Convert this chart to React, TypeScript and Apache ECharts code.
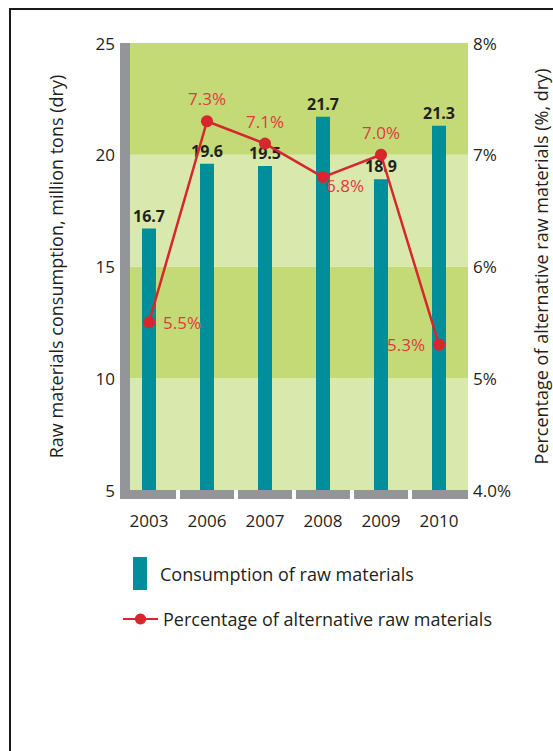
import React, { useEffect, useRef } from "react";
import * as echarts from "echarts";

const categories = ["2003", "2006", "2007", "2008", "2009", "2010"];
const consumption = [16.7, 19.6, 19.5, 21.7, 18.9, 21.3];
const altPercent = [5.5, 7.3, 7.1, 6.8, 7.0, 5.3];
const altLabelPos = ["right", "top", "top", "bottom", "top", "left"];
const leftTicks = { min: 5, max: 25, interval: 5 };
const rightTicks = { min: 4, max: 8, interval: 1 };

const FONT = "'Open Sans', 'Noto Sans', sans-serif";
const TEXT = "#231f20";
const GRAY = "#939598";
const TEAL = "#008e9b";
const RED = "#d7262e";
const RED_TEXT = "#e0393e";

export default function App() {
  const ref = useRef<HTMLDivElement>(null);
  useEffect(() => {
    const chart = echarts.init(ref.current!, null, { renderer: "svg" });
    const lineData = altPercent.map((v, i) => {
      const pos = altLabelPos[i];
      const label: any = { position: pos };
      if (pos === "bottom") {
        label.position = [9, 6];
      }
      return { value: v, label };
    });
    chart.setOption({
      animation: false,
      textStyle: { fontFamily: FONT },
      grid: { left: 120, right: 85, top: 43, bottom: 261, outerBoundsMode: "none", containLabel: false },
      graphic: [
        {
          type: "rect",
          shape: { x: 10, y: 9, width: 600, height: 800 },
          style: { fill: "none", stroke: "#1a1a1a", lineWidth: 2 },
          z: 100,
        },
      ],
      legend: [
        {
          data: ["Consumption of raw materials"],
          left: 133,
          top: 557,
          padding: 0,
          itemWidth: 14,
          itemHeight: 33,
          icon: "rect",
          textStyle: { fontFamily: FONT, fontSize: 18, color: TEXT, padding: [0, 0, 0, 8] },
        },
        {
          data: ["Percentage of alternative raw materials"],
          left: 122,
          top: 610,
          padding: 0,
          itemWidth: 35,
          itemHeight: 14,
          textStyle: { fontFamily: FONT, fontSize: 18, color: TEXT, padding: [0, 0, 0, 0] },
        },
      ],
      xAxis: {
        type: "category",
        data: categories,
        boundaryGap: true,
        axisLine: { show: false },
        axisTick: { show: false },
        axisLabel: { margin: 22, fontSize: 17, color: TEXT, fontFamily: FONT },
      },
      yAxis: [
        {
          type: "value",
          min: leftTicks.min,
          max: leftTicks.max,
          interval: leftTicks.interval,
          offset: -5,
          name: "Raw materials consumption, million tons (dry)",
          nameLocation: "middle",
          nameGap: 60,
          nameTextStyle: { fontSize: 18, color: TEXT, fontFamily: FONT },
          axisLine: { show: true, lineStyle: { color: GRAY, width: 10, cap: "butt" } },
          axisTick: { show: false },
          axisLabel: { margin: 10, fontSize: 17, color: TEXT, fontFamily: FONT },
          splitLine: { show: false },
          splitArea: {
            show: true,
            areaStyle: { color: ["#d9e8ac", "#c3da76"] },
          },
        },
        {
          type: "value",
          min: rightTicks.min,
          max: rightTicks.max,
          interval: rightTicks.interval,
          position: "right",
          name: "Percentage of alternative raw materials (%, dry)",
          nameLocation: "middle",
          nameGap: 64,
          nameRotate: 90,
          nameTextStyle: { fontSize: 18, color: TEXT, fontFamily: FONT },
          axisLine: { show: false },
          axisTick: { show: false },
          axisLabel: {
            margin: 5,
            fontSize: 17,
            color: TEXT,
            fontFamily: FONT,
            formatter: (v: number) => (v === rightTicks.min ? v.toFixed(1) + "%" : v + "%"),
          },
          splitLine: { show: false },
        },
      ],
      series: [
        {
          name: "Consumption of raw materials",
          type: "bar",
          data: consumption,
          barWidth: 14,
          itemStyle: { color: TEAL },
          z: 2,
          label: {
            show: true,
            position: "top",
            distance: 5,
            fontSize: 16,
            fontWeight: "bold",
            color: TEXT,
            fontFamily: FONT,
            formatter: (p: any) => p.value.toFixed(1),
          },
        },
        {
          name: "Percentage of alternative raw materials",
          type: "line",
          yAxisIndex: 1,
          data: lineData,
          symbol: "circle",
          symbolSize: 12,
          lineStyle: { color: RED, width: 2.5 },
          itemStyle: { color: RED },
          z: 3,
          label: {
            show: true,
            fontSize: 17,
            color: RED_TEXT,
            fontFamily: FONT,
            distance: 8,
            formatter: (p: any) => p.value.toFixed(1) + "%",
          },
        },
        {
          name: "axisBase",
          type: "custom",
          data: categories.map((_, i) => [i, leftTicks.min]),
          silent: true,
          z: 1,
          clip: false,
          renderItem: (params: any, api: any) => {
            const i = api.value(0);
            const p = api.coord([i, leftTicks.min]);
            const w = api.size([1, 0])[0];
            const n = categories.length;
            const left = p[0] - w / 2 + (i === 0 ? 0 : 2);
            const right = p[0] + w / 2 - (i === n - 1 ? 0 : 2);
            return {
              type: "rect",
              shape: { x: left, y: p[1], width: right - left, height: 9 },
              style: { fill: GRAY },
            };
          },
        },
      ],
    });
    return () => chart.dispose();
  }, []);
  return (
    <div
      ref={ref}
      style={{ position: "absolute", left: 0, top: 0, width: 553, height: 751, background: "#fff" }}
    />
  );
}
